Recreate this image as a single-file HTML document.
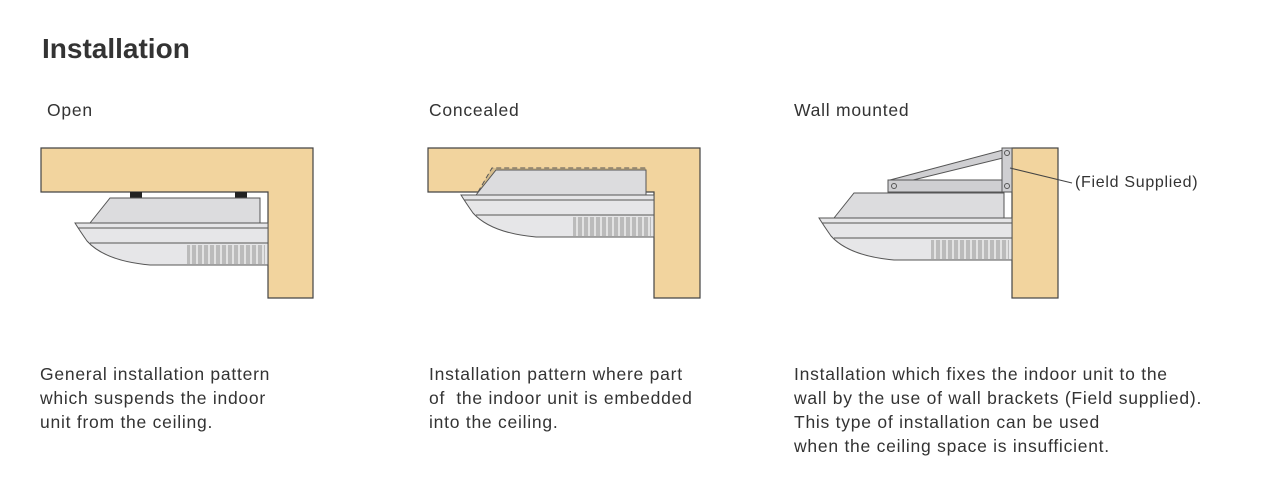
<!DOCTYPE html>
<html><head><meta charset="utf-8"><style>
body{margin:0;background:#fff;width:1262px;height:500px;overflow:hidden;font-family:"Liberation Sans",Arial,sans-serif;color:#333}
.t{position:absolute;font-size:17.5px;letter-spacing:0.75px;line-height:24px;color:#333;white-space:nowrap}
</style></head><body>
<div style="position:absolute;left:42px;top:33px;font-size:28px;font-weight:bold;color:#333">Installation</div>
<div class="t" style="left:47px;top:98px">Open</div>
<div class="t" style="left:429px;top:98px">Concealed</div>
<div class="t" style="left:794px;top:98px">Wall mounted</div>
<div class="t" style="left:40px;top:362px">General installation pattern<br>which suspends the indoor<br>unit from the ceiling.</div>
<div class="t" style="left:429px;top:362px">Installation pattern where part<br>of &nbsp;the indoor unit is embedded<br>into the ceiling.</div>
<div class="t" style="left:794px;top:362px">Installation which fixes the indoor unit to the<br>wall by the use of wall brackets (Field supplied).<br>This type of installation can be used<br>when the ceiling space is insufficient.</div>
<div class="t" style="left:1075px;top:171px;font-size:16px;letter-spacing:0.7px">(Field Supplied)</div>
<svg width="1262" height="500" style="position:absolute;left:0;top:0">
<defs>
<g id="unit">
<path d="M15,0 L35,-25 L185,-25 L185,0 Z" fill="#dcdcde" stroke="#555" stroke-width="1"/>
<path d="M0,0 L193,0 L193,42 L75,42 Q30,38 12,18 Q5,8 0,0 Z" fill="#e6e6e8" stroke="#555" stroke-width="1"/>
<line x1="3" y1="5" x2="193" y2="5" stroke="#555"/>
<line x1="15" y1="20" x2="193" y2="20" stroke="#555"/>
<rect x="112" y="22" width="78" height="19" fill="#bbb"/>
<g stroke="#eee" stroke-width="1.5">
<line x1="116" y1="22" x2="116" y2="41"/><line x1="122" y1="22" x2="122" y2="41"/><line x1="128" y1="22" x2="128" y2="41"/><line x1="134" y1="22" x2="134" y2="41"/><line x1="140" y1="22" x2="140" y2="41"/><line x1="146" y1="22" x2="146" y2="41"/><line x1="152" y1="22" x2="152" y2="41"/><line x1="158" y1="22" x2="158" y2="41"/><line x1="164" y1="22" x2="164" y2="41"/><line x1="170" y1="22" x2="170" y2="41"/><line x1="176" y1="22" x2="176" y2="41"/><line x1="182" y1="22" x2="182" y2="41"/><line x1="188" y1="22" x2="188" y2="41"/>
</g>
</g>
</defs>
<path d="M41,148 H313 V298 H268 V192 H41 Z" fill="#f2d49e" stroke="#444" stroke-width="1.2"/>
<rect x="130" y="192" width="12" height="6" fill="#222"/><rect x="235" y="192" width="12" height="6" fill="#222"/>
<g transform="translate(75,223)"><use href="#unit"/></g>
<path d="M428,148 H700 V298 H654 V192 H428 Z" fill="#f2d49e" stroke="#444" stroke-width="1.2"/>
<path d="M478,192 L492,168 L646,168 L646,192 Z" fill="#d6bd8c" stroke="#555" stroke-dasharray="5,3"/>
<g transform="translate(461,195)"><use href="#unit"/></g>
<rect x="1012" y="148" width="46" height="150" fill="#f2d49e" stroke="#444" stroke-width="1.2"/>
<g transform="translate(819,218)"><use href="#unit"/></g>
<path d="M890,180 L1003,150 L1003,158 L905,182 Z" fill="#cfcfd2" stroke="#555"/>
<rect x="888" y="180" width="122" height="12" fill="#cfcfd2" stroke="#555"/>
<rect x="1002" y="148" width="10" height="44" fill="#cfcfd2" stroke="#555"/>
<circle cx="894" cy="186" r="2.5" fill="none" stroke="#555"/><circle cx="1007" cy="186" r="2.5" fill="none" stroke="#555"/><circle cx="1007" cy="153" r="2.5" fill="none" stroke="#555"/>
<line x1="1010" y1="168" x2="1072" y2="183" stroke="#444"/>
</svg>
</body></html>
